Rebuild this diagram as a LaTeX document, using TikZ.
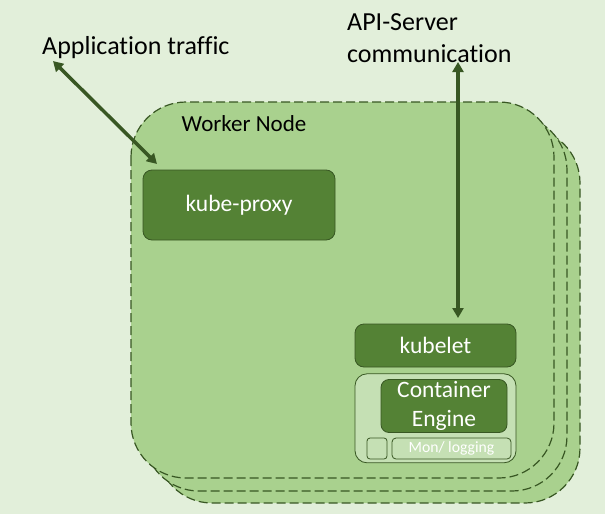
\documentclass[tikz,border=0pt]{standalone}
\usepackage{fontspec}
\setmainfont{Carlito}[Ligatures=NoCommon]
\usetikzlibrary{arrows.meta,positioning}
\definecolor{bg}{HTML}{E2EFDA}
\definecolor{cardfill}{HTML}{A9D18E}
\definecolor{dkgreen}{HTML}{548235}
\definecolor{ltgreen}{HTML}{C5E0B4}
\definecolor{edge}{HTML}{385723}
\begin{document}
\begin{tikzpicture}[x=1pt, y=-1pt,
  card/.style={fill=cardfill, draw=edge, line width=1.2pt, dash pattern=on 9pt off 4pt, rounded corners=55pt},
  comp/.style={fill=dkgreen, draw=edge, line width=0.8pt, rounded corners=9pt, text=white, font=\fontsize{23.5}{29}\selectfont, inner sep=0pt, align=center},
  slot/.style={fill=ltgreen, draw=edge, line width=0.8pt, rounded corners=4pt, inner sep=0pt},
  lbl/.style={font=\fontsize{26}{32}\selectfont, inner sep=0pt, align=left},
  link/.style={draw=edge, line width=3.5pt, {Triangle[length=10pt,width=11pt]}-{Triangle[length=10pt,width=11pt]}}]
  \useasboundingbox[fill=bg] (0,0) rectangle (605,514);
  \draw[card] (157,128) rectangle (580,503);
  \draw[card] (144,115) rectangle (567,491);
  \draw[card] (131,102) rectangle (554,478);
  \node (W) [anchor=base, font=\fontsize{23}{28}\selectfont, inner sep=0pt] at (244,131) {Worker Node};
  \node (App) [lbl, anchor=base west] at (42,54) {Application traffic};
  \node (API) [lbl, anchor=north west] at (347,13) {API-Server\\communication};
  \node (Proxy) [comp, minimum width=192pt, minimum height=70pt] at (239,205) {kube-proxy};
  \node (Kubelet) [comp, minimum width=161pt, minimum height=43pt] at (435.5,345.5) {kubelet};
  \node (CE) [slot, rounded corners=12pt, minimum width=161pt, minimum height=89pt, below=6pt of Kubelet] {};
  \node (Eng) [comp, rounded corners=8pt, minimum width=126pt, minimum height=53pt] at (444,406) {Container\\Engine};
  \node (Sq) [slot, rounded corners=3pt, minimum width=20pt, minimum height=21pt] at (377,448.5) {};
  \node (Mon) [slot, text=white, font=\fontsize{15.7}{18}\selectfont, minimum width=119pt, minimum height=21pt] at (451.5,448.5) {Mon/ logging};
  \coordinate (a1) at (53,61);
  \coordinate (a2) at (157,164);
  \coordinate (b1) at (458,62);
  \coordinate (b2) at (458,318);
  \draw [link] (a1) -- (a2);
  \draw [link] (b1) -- (b2);
\end{tikzpicture}
\end{document}
